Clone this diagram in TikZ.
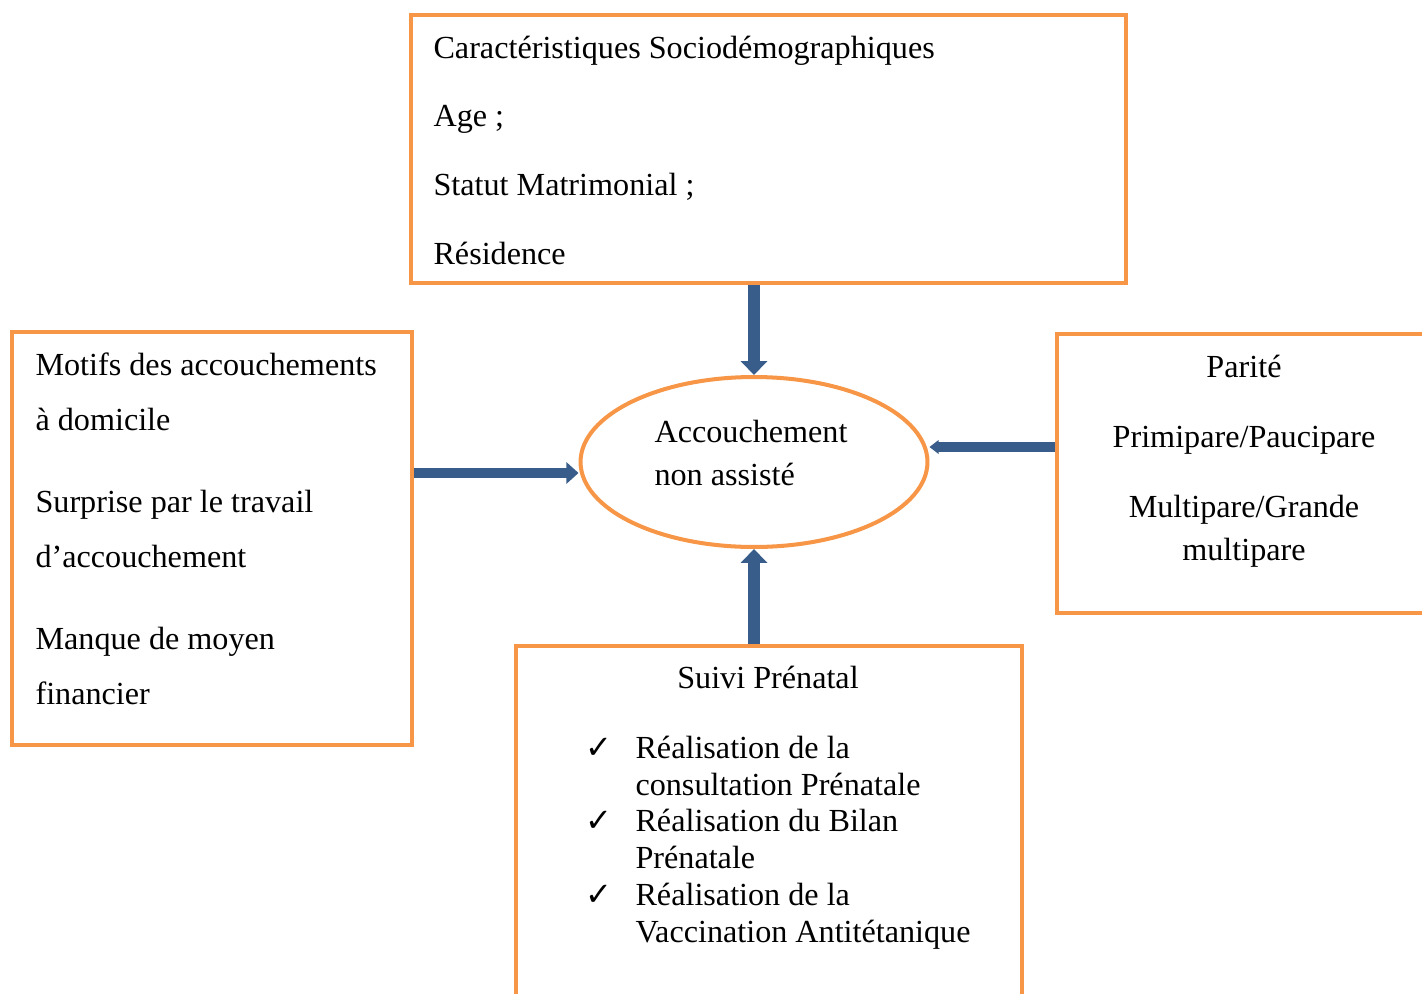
\documentclass[tikz,border=0pt]{standalone}
\usepackage{fontspec}
\setmainfont{Liberation Serif}
\newfontfamily\coche{DejaVu Sans}
\usetikzlibrary{arrows.meta,positioning,shapes.geometric,fit}
\definecolor{cadre}{HTML}{F79646}
\definecolor{fleche}{HTML}{385D8A}

\begin{document}
\begin{tikzpicture}[
   x=0.373pt, y=-0.373pt, font=\fontsize{12}{14}\selectfont,
   boite/.style={draw=cadre,line width=1.5pt,inner sep=0pt},
   txt/.style={inner sep=0pt,anchor=base west,align=left},
   fl/.style={draw=fleche,line width=4.5pt,-{Triangle[width=9.7pt,length=5.2pt]}}]
  \useasboundingbox (0,0) rectangle (1422,994);
  \clip (0,0) rectangle (1422,994);
  % cadres
  \node[boite,fit={(411,15) (1126,283)}] (socio) {};
  \node[boite,fit={(12,332) (412,745)}] (motifs) {};
  \node[boite,fit={(1057,334) (1460,613)}] (parite) {};
  \node[boite,fit={(516,646) (1022,1040)}] (suivi) {};
  \node[boite,ellipse,minimum width=129.4pt,minimum height=63.4pt] (acc) at (754,462) {};
  % textes (ancre sur la derniere ligne)
  \node[txt,font=\fontsize{12}{25.6}\selectfont] (tsocio) at (433,264)
    {Caractéristiques Sociodémographiques\\Age ;\\Statut Matrimonial ;\\Résidence};
  \node[txt,font=\fontsize{12}{20.5}\selectfont] (tmotifs) at (35,704)
    {Motifs des accouchements\\à domicile\\[10.1pt]Surprise par le travail\\d’accouchement\\[10.1pt]Manque de moyen\\financier};
  \node[txt,anchor=base,align=center,font=\fontsize{12}{16}\selectfont] (tparite) at (1244,560)
    {Parité\\[10.1pt]Primipare/Paucipare\\[10.1pt]Multipare/Grande\\multipare};
  \node[txt,font=\fontsize{12}{15.7}\selectfont] (tacc) at (654,485) {Accouchement\\non assisté};
  \node[txt,anchor=base] (tsuivi) at (768,688) {Suivi Prénatal};
  \node[txt,font=\fontsize{12}{13.7}\selectfont] (tliste) at (635,942)
    {\llap{{\coche ✓}\hspace{8.5pt}}Réalisation de la\\consultation Prénatale\\
     \llap{{\coche ✓}\hspace{8.5pt}}Réalisation du Bilan\\Prénatale\\
     \llap{{\coche ✓}\hspace{8.5pt}}Réalisation de la\\Vaccination Antitétanique};
  % fleches
  \coordinate (ga) at (0,473);
  \coordinate (da) at (0,447);
  \draw[fl] (acc.north |- socio.south) -- (acc.north);
  \draw[fl] (acc.south |- suivi.north) -- (acc.south);
  \draw[fl,line width=3.7pt,-{Triangle[width=7.8pt,length=4.5pt]}] (motifs.east |- ga) -- (acc.west |- ga);
  \draw[fl,line width=3.4pt,-{Triangle[width=5pt,length=3.4pt]}] (parite.west |- da) -- (acc.east |- da);
\end{tikzpicture}
\end{document}
